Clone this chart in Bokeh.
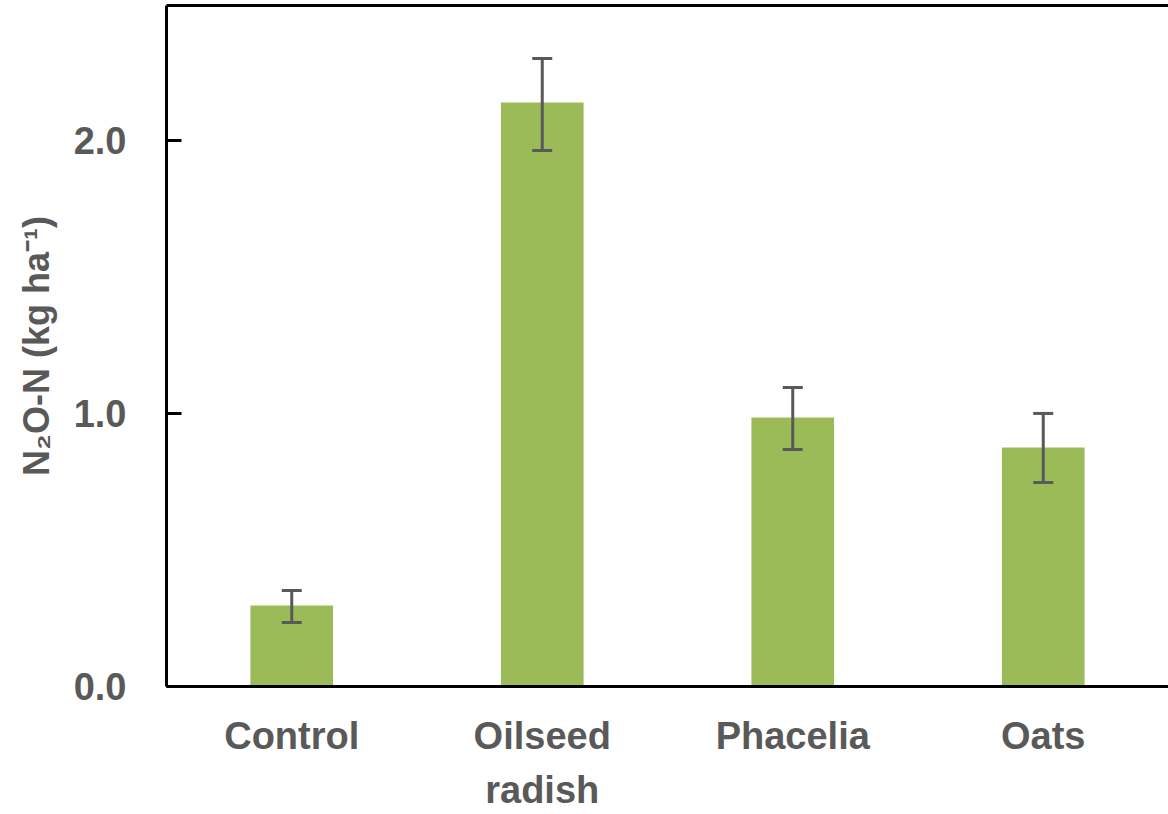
from bokeh.plotting import figure
from bokeh.models import (ColumnDataSource, Whisker, TeeHead, Range1d, FixedTicker,
                          CustomJSTickFormatter, LinearAxis)
from bokeh.embed import file_html
from bokeh.resources import INLINE

categories = ["Control", "Oilseed\nradish", "Phacelia", "Oats"]
values = [0.297, 2.139, 0.985, 0.875]
err_upper = [0.352, 2.300, 1.095, 1.000]
err_lower = [0.234, 1.963, 0.868, 0.747]
y_ticks = [0.0, 1.0, 2.0]

FONT = "Liberation Sans"
GREY = "#595959"

xpos = [i + 0.5 for i in range(len(categories))]

p = figure(x_range=Range1d(0, 4.0), y_range=Range1d(0, 2.494),
           width=1168, height=814, output_backend="svg", toolbar_location=None,
           min_border_left=166, min_border_right=0, min_border_top=5, min_border_bottom=128)

src = ColumnDataSource(dict(x=xpos, top=values, upper=err_upper, lower=err_lower))
p.vbar(x="x", top="top", width=0.33, source=src, fill_color="#9BBB59", line_color=None)

w = Whisker(base="x", upper="upper", lower="lower", source=src,
            line_color=GREY, line_width=3, level="overlay",
            upper_head=TeeHead(size=20, line_color=GREY, line_width=3),
            lower_head=TeeHead(size=20, line_color=GREY, line_width=3))
p.add_layout(w)

p.grid.visible = False
p.outline_line_color = None

p.yaxis.ticker = FixedTicker(ticks=y_ticks)
p.yaxis.formatter = CustomJSTickFormatter(code="return tick.toFixed(1);")
p.yaxis.minor_tick_line_color = None
p.yaxis.major_tick_in = 15
p.yaxis.major_tick_out = 0
p.yaxis.major_tick_line_width = 3
p.yaxis.major_tick_line_color = "black"
p.yaxis.axis_line_width = 3
p.yaxis.axis_line_color = "black"
p.yaxis.major_label_standoff = 40
p.yaxis.major_label_text_font = FONT
p.yaxis.major_label_text_font_style = "bold"
p.yaxis.major_label_text_font_size = "38px"
p.yaxis.major_label_text_color = GREY
p.yaxis.axis_label = "N\u2082O-N (kg ha\u207b\u00b9)"
p.yaxis.axis_label_text_font = FONT
p.yaxis.axis_label_text_font_style = "bold"
p.yaxis.axis_label_text_font_size = "36px"
p.yaxis.axis_label_text_color = GREY
p.yaxis.axis_label_standoff = 14

xa = p.below[0]
xa.ticker = FixedTicker(ticks=xpos)
xa.major_label_overrides = {x: c for x, c in zip(xpos, categories)}
xa.major_tick_in = 0
xa.major_tick_out = 0
xa.minor_tick_line_color = None
xa.axis_line_width = 3
xa.axis_line_color = "black"
xa.major_label_standoff = 28
xa.major_label_text_font = FONT
xa.major_label_text_font_style = "bold"
xa.major_label_text_font_size = "38px"
xa.major_label_text_color = GREY
xa.major_label_text_line_height = 1.3

# top frame line (no right edge visible in the reference)
top_axis = LinearAxis(ticker=FixedTicker(ticks=[]), axis_line_color="black",
                      axis_line_width=3, major_tick_in=0, major_tick_out=0,
                      minor_tick_in=0, minor_tick_out=0, major_label_text_font_size="0px",
                      major_label_standoff=0)
p.add_layout(top_axis, "above")

open("out.html", "w").write(file_html(p, INLINE))
